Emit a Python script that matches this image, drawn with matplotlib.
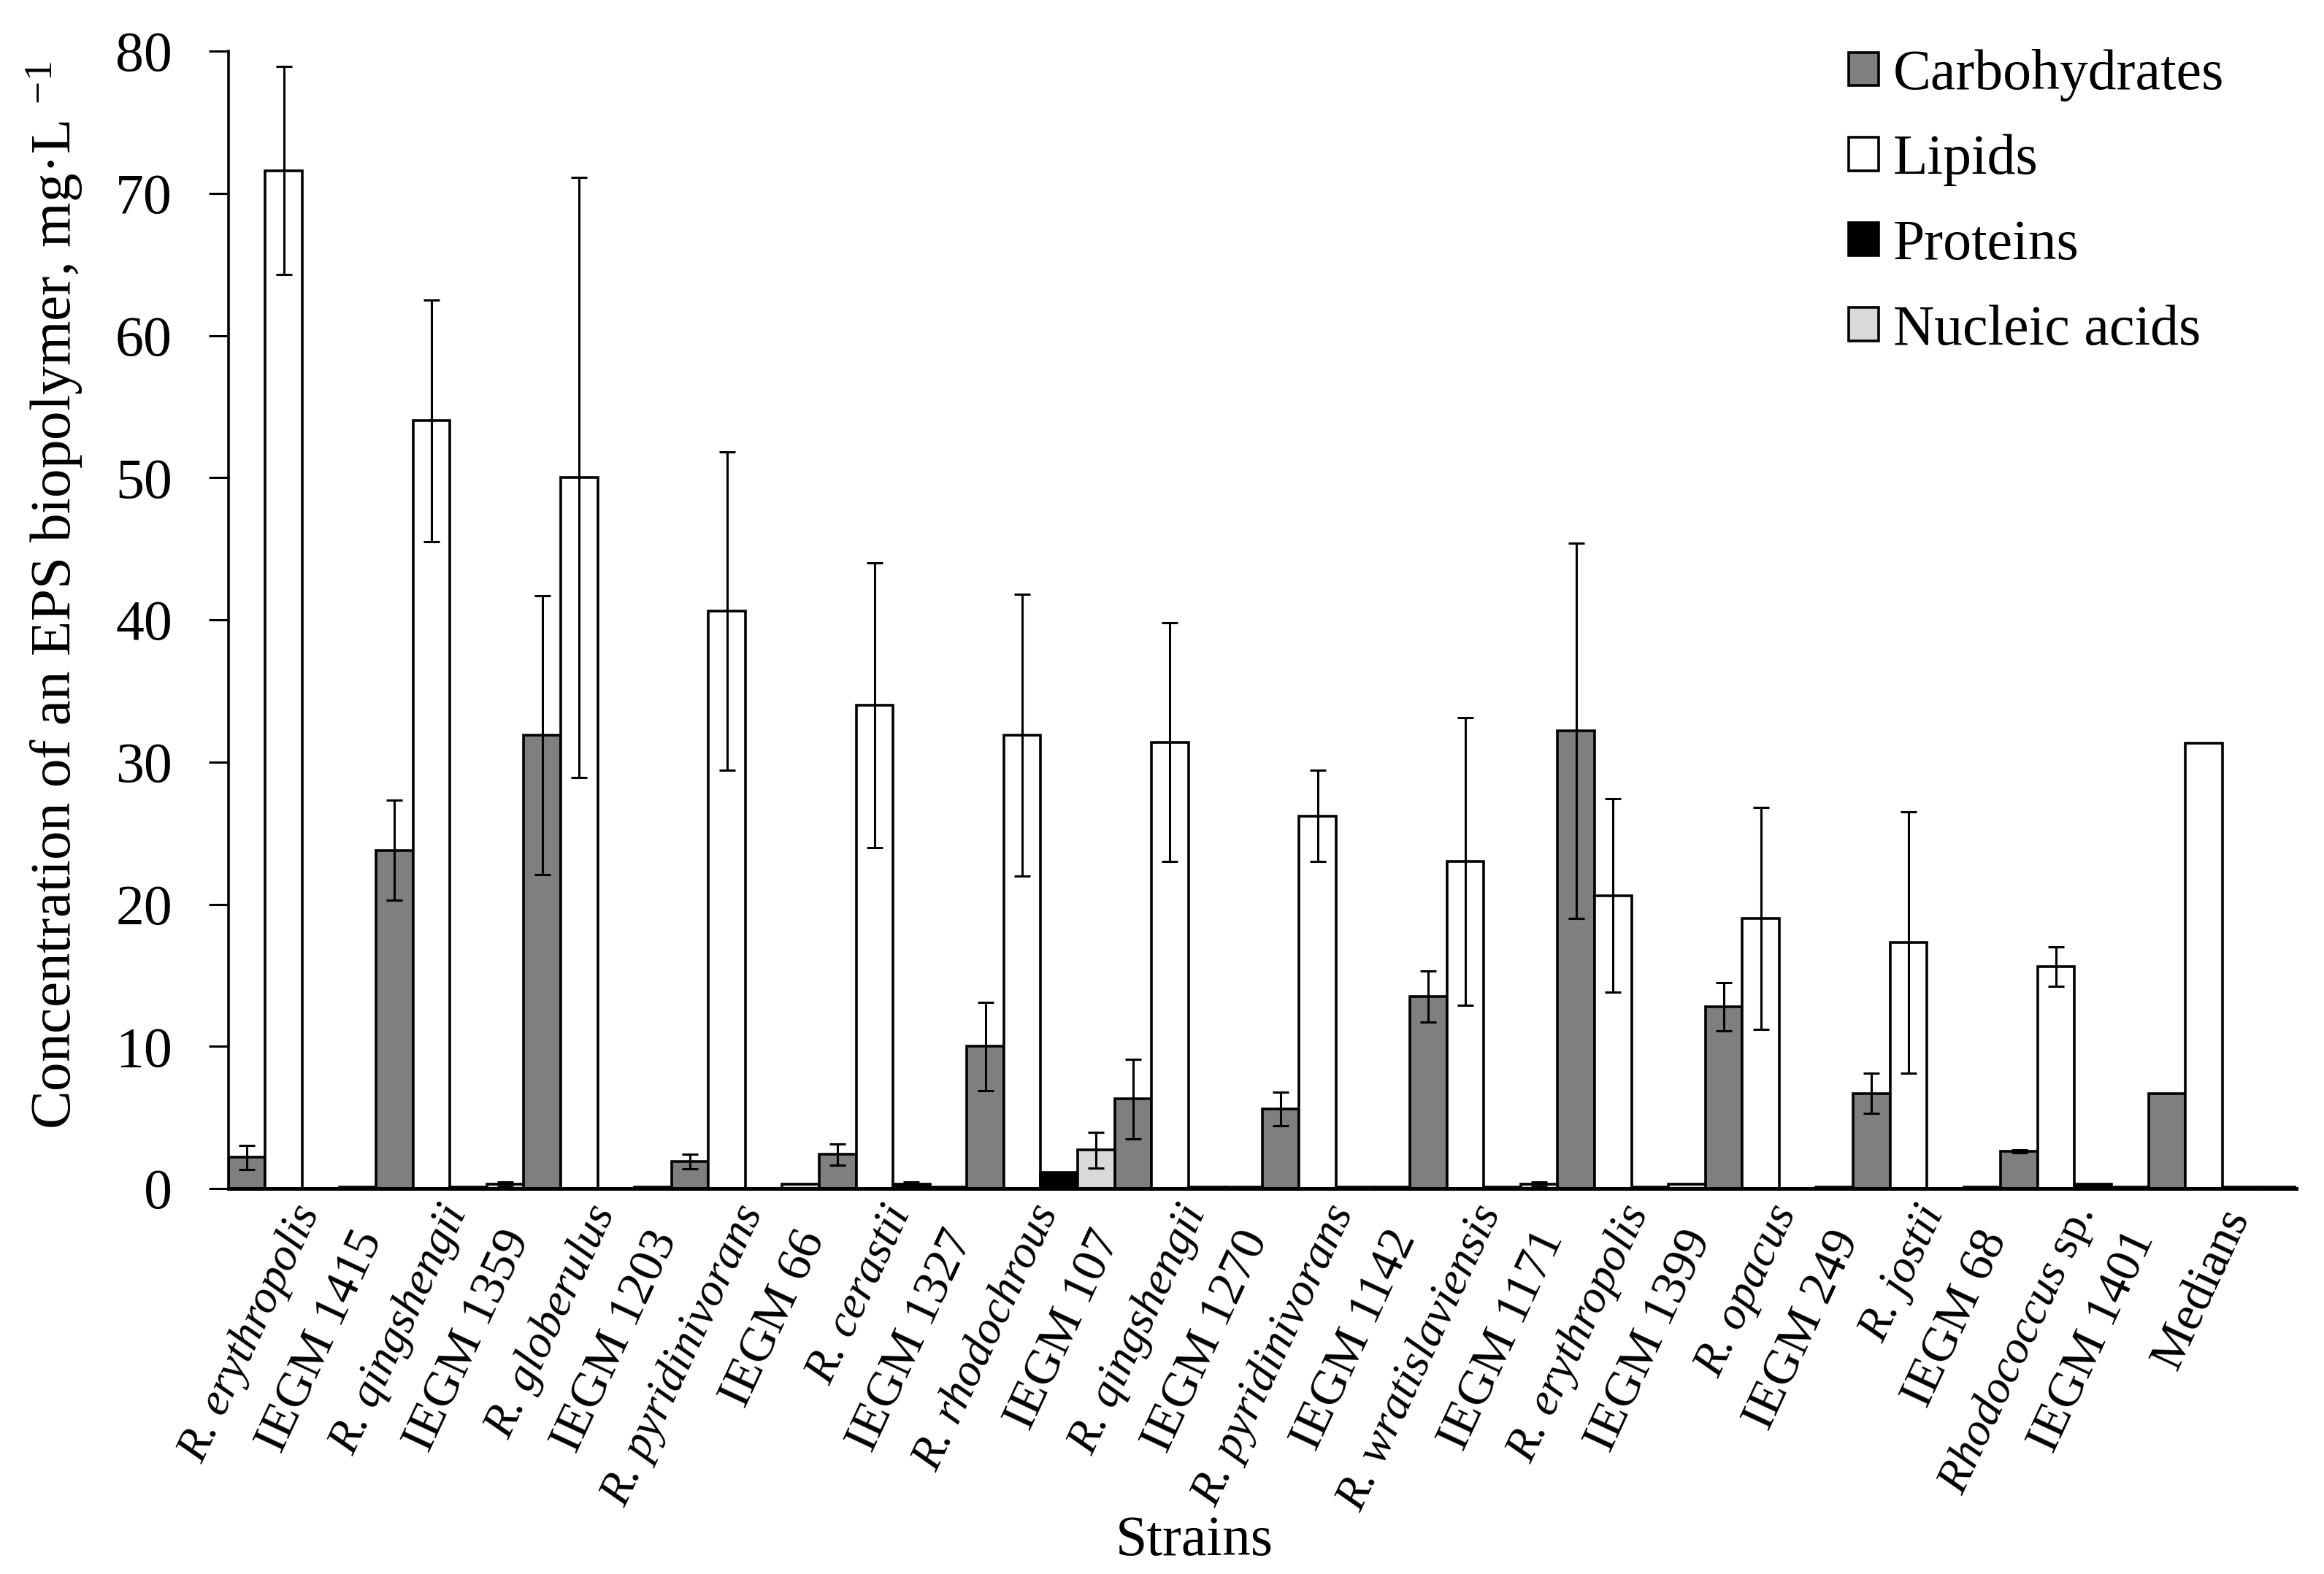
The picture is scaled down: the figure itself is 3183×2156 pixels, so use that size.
import numpy as np
import matplotlib
matplotlib.use("Agg")
import matplotlib.pyplot as plt
from matplotlib.patches import Patch

plt.rcParams['font.family'] = ['Liberation Serif', 'DejaVu Serif']
plt.rcParams['mathtext.fontset'] = 'custom'
plt.rcParams['mathtext.rm'] = 'Liberation Serif'
plt.rcParams['mathtext.it'] = 'Liberation Serif:italic'

# strains (species line / collection number line)
species = ['R. erythropolis', 'R. qingshengii', 'R. globerulus', 'R. pyridinivorans',
           'R. cerastii', 'R. rhodochrous', 'R. qingshengii', 'R. pyridinivorans',
           'R. wratislaviensis', 'R. erythropolis', 'R. opacus', 'R. jostii',
           'Rhodococcus sp.']
iegm = ['IEGM 1415', 'IEGM 1359', 'IEGM 1203', 'IEGM 66', 'IEGM 1327', 'IEGM 107',
        'IEGM 1270', 'IEGM 1142', 'IEGM 1171', 'IEGM 1399', 'IEGM 249', 'IEGM 68',
        'IEGM 1401']
last_label = 'Medians'

# values, mg/L (last entry = medians)
carb = [2.2, 23.8, 31.9, 1.9, 2.4, 10.0, 6.3, 5.6, 13.5, 32.2, 12.8, 6.7, 2.6, 6.7]
carb_err = [0.85, 3.5, 9.8, 0.5, 0.75, 3.1, 2.8, 1.2, 1.8, 13.2, 1.7, 1.4, 0.1, 0]
lipid = [71.6, 54.0, 50.0, 40.6, 34.0, 31.9, 31.4, 26.2, 23.0, 20.6, 19.0, 17.3, 15.6, 31.3]
lipid_err = [7.3, 8.5, 21.1, 11.2, 10.0, 9.9, 8.4, 3.2, 10.1, 6.8, 7.8, 9.2, 1.4, 0]
protein = [0, 0.1, 0, 0, 0.3, 1.15, 0.1, 0.1, 0.1, 0.1, 0, 0, 0.3, 0.1]
protein_err = [0, 0, 0, 0, 0.15, 0, 0, 0, 0, 0, 0, 0, 0, 0]
nucleic = [0.1, 0.3, 0.1, 0.3, 0.1, 2.7, 0.1, 0.1, 0.3, 0.3, 0.1, 0.1, 0.1, 0.1]
nucleic_err = [0, 0.15, 0, 0, 0, 1.27, 0, 0, 0.15, 0, 0, 0, 0, 0]

series = [('Carbohydrates', carb, carb_err, '#7f7f7f'),
          ('Lipids', lipid, lipid_err, '#ffffff'),
          ('Proteins', protein, protein_err, '#000000'),
          ('Nucleic acids', nucleic, nucleic_err, '#d9d9d9')]

FS = 28
FS_SP = 23
FS_NUM = 24.5
fig = plt.figure(figsize=(3183 / 200, 2156 / 200), dpi=200)
ax = fig.add_axes([0.0983, 0.2449, 0.8897, 0.7226])

x = np.arange(len(carb))
w = 0.25
handles = []
for k, (name, vals, errs, col) in enumerate(series):
    pos = x - 0.375 + k * w
    ax.bar(pos, vals, width=w, color=col, edgecolor='black', linewidth=1.3, zorder=2)
    errs = np.array(errs)
    m = errs > 0
    ax.errorbar(pos[m], np.array(vals)[m], yerr=errs[m], fmt='none', ecolor='black',
                elinewidth=1.1, capsize=4, capthick=1.1, zorder=3)
    handles.append(Patch(facecolor=col, edgecolor='black', linewidth=1.3, label=name))

ax.set_xlim(-0.5, len(carb) - 0.5)
ax.set_ylim(0, 80)
ax.set_yticks(np.arange(0, 81, 10))
ax.tick_params(axis='y', labelsize=FS, length=9.7, width=1.1, pad=18)
ax.set_xticks([])
for s in ['top', 'right']:
    ax.spines[s].set_visible(False)
ax.spines['left'].set_linewidth(1.3)
ax.spines['bottom'].set_linewidth(1.8)
ax.spines['bottom'].set_zorder(4)

# rotated two-line category labels
tr = ax.get_xaxis_transform()
for i, (sp, num) in enumerate(zip(species, iegm)):
    if sp.endswith(' sp.'):
        txt = r'$\mathit{' + sp[:-4] + '}$ sp.'
        style = 'normal'
    else:
        txt = sp
        style = 'italic'
    ax.text(i - 0.08, -0.009, txt, transform=tr, rotation=65, rotation_mode='anchor',
            ha='right', va='top', fontsize=FS_SP, fontstyle=style)
    ax.text(i + 0.33, -0.031, num, transform=tr, rotation=65, rotation_mode='anchor',
            ha='right', va='top', fontsize=FS_NUM)
ax.text(len(carb) - 1 - 0.03, -0.012, last_label, transform=tr, rotation=65,
        rotation_mode='anchor', ha='right', va='top', fontsize=FS_NUM)

fig.text(0.514, 0.021, 'Strains', ha='center', va='center', fontsize=FS)
fig.text(0.0236, 0.6215, 'Concentration of an EPS biopolymer, mg·L $^{-1}$',
         rotation=90, ha='center', va='center', fontsize=28.5)

fig.legend(handles=handles, loc='upper left', bbox_to_anchor=(0.7955, 0.969),
           frameon=False, fontsize=FS, handlelength=0.52, handleheight=0.52,
           handletextpad=0.26, labelspacing=0.58, borderpad=0, borderaxespad=0)

fig.savefig('out.png', dpi=200)
